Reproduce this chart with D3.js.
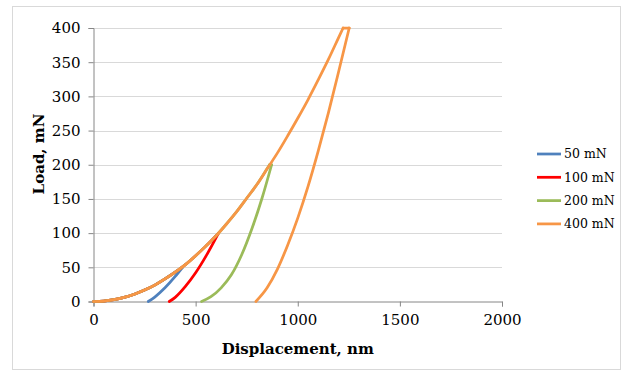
<!DOCTYPE html>
<html>
<head>
<meta charset="utf-8">
<script src="https://cdn.jsdelivr.net/npm/d3@7"></script>
<style>
  body { margin: 0; background: #fff; }
  svg text { font-family: "DejaVu Serif", serif; fill: #000; }
</style>
</head>
<body>
<svg id="chart" width="622" height="371"></svg>
<script>
// displacement (nm), load (mN)
const loading50 = [[0, 0], [50, 0.7], [100, 2.7], [150, 6], [200, 10.7], [250, 16.7], [300, 24], [350, 33], [400, 43], [436, 50]];
const unloading50 = [[268, 0], [300, 6.5], [350, 20], [400, 36.6], [436, 50]];

const loading100 = [[0, 0], [50, 0.7], [100, 2.7], [150, 6], [200, 10.7], [250, 16.7], [300, 24], [350, 33], [400, 43], [450, 54], [500, 67], [550, 81], [612, 100]];
const unloading100 = [[371, 0], [400, 6], [450, 22], [500, 42], [550, 66], [612, 100]];

const loading200 = [[0, 0], [50, 0.7], [100, 2.7], [150, 6], [200, 10.7], [250, 16.7], [300, 24], [350, 33], [400, 43], [450, 54], [500, 67], [550, 81], [600, 96], [650, 113], [700, 131], [750, 151], [800, 171], [862, 200]];
const hold200 = [[862, 200], [872, 200]];
const unloading200 = [[529, 0], [575, 7], [625, 20], [675, 39], [725, 68], [775, 106], [825, 151], [872, 200]];

const loading400 = [[0, 0], [50, 0.7], [100, 2.7], [150, 6], [200, 10.7], [250, 16.7], [300, 24], [350, 33], [400, 43], [450, 54], [500, 67], [550, 81], [600, 96], [650, 113], [700, 131], [750, 151], [800, 171], [850, 194], [900, 217], [950, 242], [1000, 268], [1050, 295], [1100, 324], [1150, 354], [1200, 386], [1222, 400]];
const hold400 = [[1222, 400], [1252, 400]];
const unloading400 = [[795, 0], [850, 20], [900, 47], [950, 82], [1000, 122], [1050, 168], [1100, 220], [1150, 276], [1200, 336], [1252, 400]];

const seriesNames = ['50 mN', '100 mN', '200 mN', '400 mN'];
const seriesColors = ['#4f81bd', '#ff0000', '#9bbb59', '#f79646'];
const seriesData = [
    [loading50, unloading50],
    [loading100, unloading100],
    [loading200, hold200, unloading200],
    [loading400, hold400, unloading400]
];

const xTicks = [0, 500, 1000, 1500, 2000];
const yTicks = [0, 50, 100, 150, 200, 250, 300, 350, 400];

const svg = d3.select('#chart');

// outer chart frame
svg.append('rect')
    .attr('x', 12.5).attr('y', 6.5)
    .attr('width', 608).attr('height', 363)
    .attr('fill', '#fff')
    .attr('stroke', '#d9d9d9');

const x = d3.scaleLinear().domain([0, 2000]).range([93.5, 502]);
const y = d3.scaleLinear().domain([0, 400]).range([301.5, 28]);

// horizontal gridlines
svg.append('g')
    .selectAll('line')
    .data(yTicks.filter(d => d > 0))
    .enter()
    .append('line')
    .attr('x1', x(0)).attr('x2', x(2000))
    .attr('y1', d => Math.round(y(d)) + 0.5)
    .attr('y2', d => Math.round(y(d)) + 0.5)
    .attr('stroke', '#d9d9d9');

// axes
const xAxis = svg.append('g')
    .attr('transform', `translate(0,${y(0)})`)
    .call(d3.axisBottom(x).tickValues(xTicks).tickFormat(d3.format('d')).tickSize(5).tickPadding(8));
const yAxis = svg.append('g')
    .attr('transform', `translate(${x(0)},0)`)
    .call(d3.axisLeft(y).tickValues(yTicks).tickFormat(d3.format('d')).tickSize(5).tickPadding(8));

[xAxis, yAxis].forEach(g => {
    g.select('.domain').attr('stroke', '#868686');
    g.selectAll('.tick line').attr('stroke', '#868686');
    g.selectAll('.tick text')
        .style('font-family', '"DejaVu Serif", serif')
        .style('font-size', '15px')
        .attr('fill', '#000');
});

// curves
const line = d3.line()
    .x(d => x(d[0]))
    .y(d => y(d[1]))
    .curve(d3.curveMonotoneX);

seriesData.forEach((parts, i) => {
    parts.forEach(pts => {
        svg.append('path')
            .attr('d', line(pts))
            .attr('fill', 'none')
            .attr('stroke', seriesColors[i])
            .attr('stroke-width', 2.75)
            .attr('stroke-linejoin', 'round')
            .attr('stroke-linecap', 'round');
    });
});

// axis titles
svg.append('text')
    .attr('x', (x(0) + x(2000)) / 2)
    .attr('y', 354)
    .attr('text-anchor', 'middle')
    .style('font-size', '15px')
    .style('font-weight', 'bold')
    .text('Displacement, nm');

svg.append('text')
    .attr('transform', 'translate(44,154) rotate(-90)')
    .attr('text-anchor', 'middle')
    .style('font-size', '15px')
    .style('font-weight', 'bold')
    .text('Load, mN');

// legend
const legend = svg.append('g');
seriesNames.forEach((name, i) => {
    const ly = 154 + i * 23.3;
    legend.append('line')
        .attr('x1', 537).attr('x2', 561)
        .attr('y1', ly).attr('y2', ly)
        .attr('stroke', seriesColors[i])
        .attr('stroke-width', 2.75);
    legend.append('text')
        .attr('x', 564)
        .attr('y', ly)
        .attr('dy', '0.35em')
        .style('font-size', '12.5px')
        .text(name);
});
</script>
</body>
</html>
